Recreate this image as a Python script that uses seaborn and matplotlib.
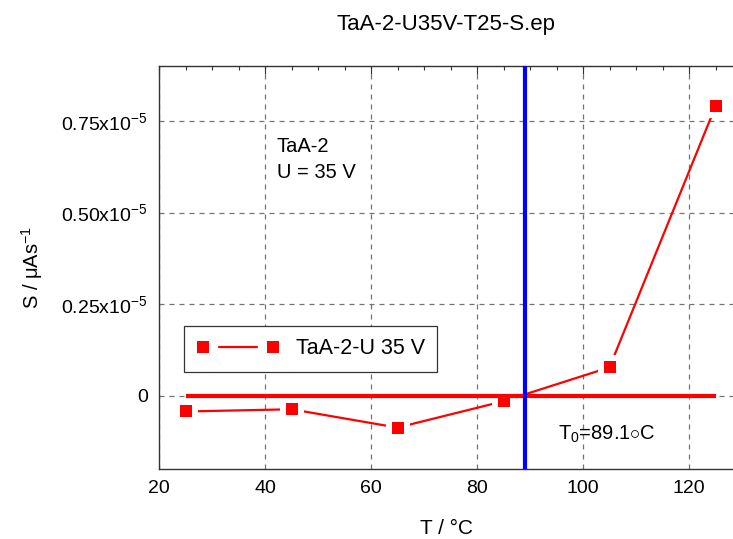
import matplotlib
matplotlib.use("Agg")
import matplotlib.pyplot as plt
import seaborn as sns
import pandas as pd
from matplotlib.legend_handler import HandlerBase
from matplotlib.lines import Line2D
from matplotlib.ticker import MultipleLocator, FixedLocator

# ---- data ----
temps = [25, 45, 65, 85, 105, 125]                       # °C
signal = [-0.043, -0.037, -0.087, -0.015, 0.0775, 0.790]  # units of 1e-5 µAs^-1
T0 = 89.1
series_label = "TaA-2-U 35 V"
title = "TaA-2-U35V-T25-S.ep"
yticks = [0, 0.25, 0.50, 0.75]
ytick_labels = ["0", r"0.25x10$^{-5}$", r"0.50x10$^{-5}$", r"0.75x10$^{-5}$"]
xticks = [20, 40, 60, 80, 100, 120]

df = pd.DataFrame({"T": temps, "S": signal})

sns.set_theme(style="white")
plt.rcParams["font.family"] = ["Liberation Sans", "DejaVu Sans"]
plt.rcParams["mathtext.fontset"] = "custom"
plt.rcParams["mathtext.rm"] = "Liberation Sans"
plt.rcParams["mathtext.it"] = "Liberation Sans:italic"
plt.rcParams["text.color"] = "black"
plt.rcParams["axes.labelcolor"] = "black"
plt.rcParams["xtick.color"] = "black"
plt.rcParams["ytick.color"] = "black"

fig = plt.figure(figsize=(7.33, 5.39), dpi=100)
ax = fig.add_axes([159 / 733, 70 / 539, (733 - 159) / 733, (469 - 66) / 539])

red = "#ff0000"
fs_tick = 14
fs = 14.5
MS = 9

# grid
ax.set_axisbelow(True)
ax.grid(True, which="major", color="0.45", linestyle=(0, (4, 4)), linewidth=0.9)

# connecting line
sns.lineplot(data=df, x="T", y="S", ax=ax, color=red, linewidth=1.6, sort=False, zorder=2)
# white halo -> gap between line and markers
sns.lineplot(data=df, x="T", y="S", ax=ax, color="white", linestyle="", marker="s",
             markersize=17, markeredgewidth=0, sort=False, zorder=2.5)
# zero line and T0 line
ax.hlines(0, min(temps), max(temps), color=red, linewidth=3, zorder=3)
ax.axvline(T0, color="#0000ff", linewidth=3, zorder=3)
# markers
sns.lineplot(data=df, x="T", y="S", ax=ax, color=red, linestyle="", marker="s",
             markersize=MS, markeredgewidth=0, sort=False, zorder=4)

ax.set_xlim(20, 128.3)
ax.set_ylim(-0.2, 0.9)
ax.xaxis.set_major_locator(FixedLocator(xticks))
ax.xaxis.set_minor_locator(MultipleLocator(5))
ax.yaxis.set_major_locator(FixedLocator(yticks))
ax.yaxis.set_minor_locator(MultipleLocator(0.05))
ax.set_yticklabels(ytick_labels)
ax.tick_params(which="both", direction="in", top=True, right=False, color="0.2",
               labelsize=fs_tick, labelcolor="black")
ax.tick_params(which="major", length=6, width=0.8, pad=8)
ax.tick_params(which="minor", length=3, width=0.8)
for s in ["left", "bottom", "top"]:
    ax.spines[s].set_color("0.2")
    ax.spines[s].set_linewidth(1.0)
ax.spines["right"].set_visible(False)

ax.set_xlabel("T / °C", fontsize=15, labelpad=16)
ax.set_ylabel(r"S / μAs$^{-1}$", fontsize=fs, labelpad=12)
ax.set_title(title, fontsize=16, pad=26, color="black")

ax.text(42.2, 0.705, "TaA-2\nU = 35 V", fontsize=fs, va="top", ha="left", linespacing=1.45)
ax.text(95.2, -0.105, r"T$_0$=89.1$\circ$C", fontsize=fs, va="center", ha="left")


# legend handler: marker - gap - line - gap - marker
class GapHandler(HandlerBase):
    def create_artists(self, legend, orig_handle, xdescent, ydescent, width, height,
                       fontsize, trans):
        y = height / 2 - ydescent
        x0 = -xdescent
        x1 = x0 + width
        half = MS / 2
        gap = 7
        m = Line2D([x0 + half, x1 - half], [y, y], linestyle="", marker="s",
                   markersize=MS, color=red, markeredgewidth=0)
        ln = Line2D([x0 + 2 * half + gap, x1 - 2 * half - gap], [y, y], color=red,
                    linewidth=1.6)
        m.set_transform(trans)
        ln.set_transform(trans)
        return [ln, m]


h = Line2D([], [], color=red)
leg = ax.legend([h], [series_label], handler_map={Line2D: GapHandler()},
                handlelength=3.85, fontsize=15.5, loc="upper left",
                bbox_to_anchor=((184 - 159) / 574, 1 - (326 - 66) / 403),
                borderaxespad=0, fancybox=False, framealpha=1, edgecolor="0.2",
                borderpad=0.58, handletextpad=0.75)
leg.get_frame().set_linewidth(0.9)

fig.savefig("out.png", dpi=100)
